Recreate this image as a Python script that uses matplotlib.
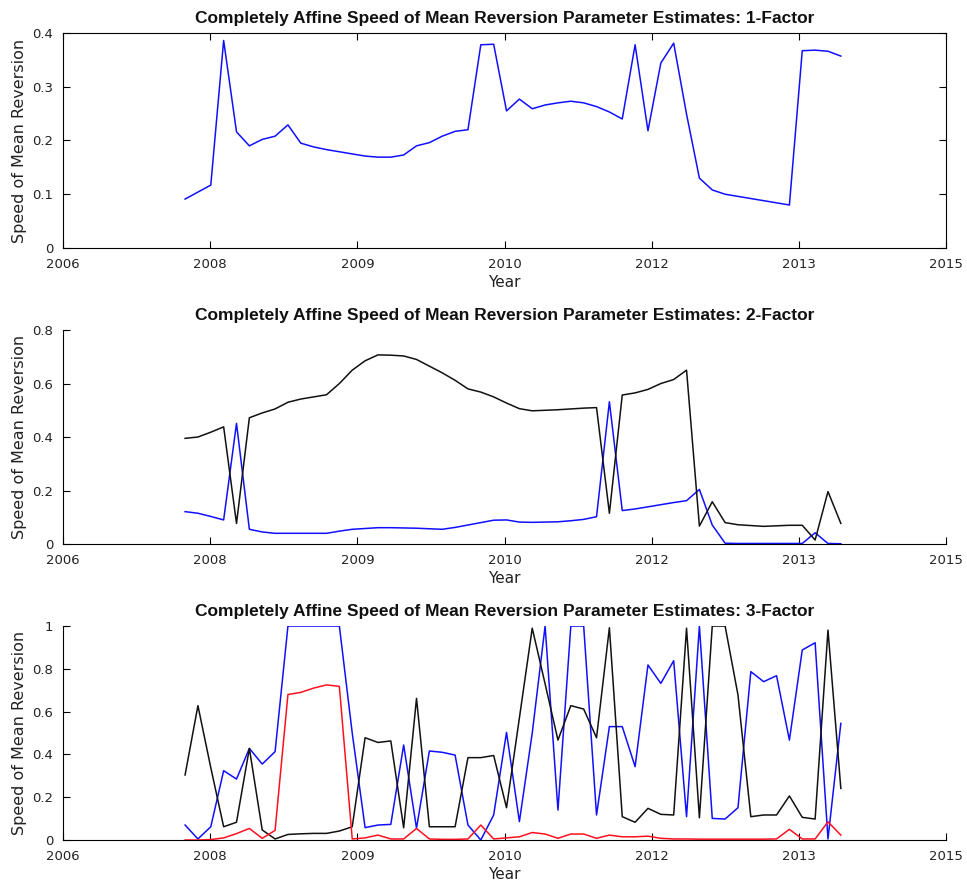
import numpy as np
import matplotlib
matplotlib.use('Agg')
import matplotlib.pyplot as plt


# observation number (one per month-ish step), tick labels as printed on the axis
OBS = np.arange(52)
YEAR_LABELS = ['2006', '2008', '2009', '2010', '2012', '2013', '2015']

ONE_FACTOR = [0.091, 0.104, 0.117, 0.386, 0.216, 0.190, 0.202, 0.208, 0.229, 0.195,
              0.188, 0.183, 0.179, 0.175, 0.171, 0.169, 0.169, 0.173, 0.190, 0.196,
              0.208, 0.217, 0.220, 0.378, 0.379, 0.255, 0.277, 0.259, 0.266, 0.270,
              0.273, 0.270, 0.263, 0.253, 0.240, 0.378, 0.218, 0.344, 0.381, 0.249,
              0.130, 0.108, 0.100, 0.096, 0.092, 0.088, 0.084, 0.080, 0.367, 0.368,
              0.366, 0.357]

TWO_FACTOR_BLUE = [0.121, 0.115, 0.103, 0.090, 0.451, 0.055, 0.045, 0.040, 0.040, 0.040,
                   0.040, 0.040, 0.048, 0.055, 0.058, 0.061, 0.061, 0.060, 0.059, 0.057,
                   0.055, 0.062, 0.071, 0.080, 0.089, 0.090, 0.082, 0.081, 0.082, 0.083,
                   0.087, 0.092, 0.102, 0.532, 0.125, 0.131, 0.139, 0.147, 0.155, 0.162,
                   0.204, 0.071, 0.003, 0.002, 0.002, 0.002, 0.002, 0.002, 0.002, 0.042,
                   0.002, 0.001]

TWO_FACTOR_BLACK = [0.395, 0.400, 0.418, 0.438, 0.077, 0.472, 0.490, 0.505, 0.530, 0.542,
                    0.550, 0.558, 0.600, 0.650, 0.685, 0.707, 0.706, 0.703, 0.690, 0.665,
                    0.640, 0.612, 0.580, 0.568, 0.550, 0.527, 0.506, 0.498, 0.500, 0.502,
                    0.505, 0.508, 0.510, 0.115, 0.557, 0.565, 0.578, 0.600, 0.615, 0.650,
                    0.067, 0.158, 0.080, 0.072, 0.069, 0.066, 0.068, 0.070, 0.070, 0.015,
                    0.196, 0.077]

THREE_FACTOR_BLUE = [0.070, 0.005, 0.062, 0.324, 0.285, 0.428, 0.355, 0.413, 1.0, 1.0,
                     1.0, 1.0, 1.0, 0.500, 0.058, 0.070, 0.073, 0.444, 0.055, 0.416,
                     0.410, 0.397, 0.070, 0.0, 0.117, 0.503, 0.086, 0.500, 1.0, 0.140,
                     1.0, 1.0, 0.117, 0.530, 0.530, 0.343, 0.818, 0.732, 0.838, 0.109,
                     1.0, 0.101, 0.098, 0.151, 0.787, 0.740, 0.768, 0.467, 0.888, 0.922,
                     0.005, 0.545]

THREE_FACTOR_BLACK = [0.304, 0.628, 0.338, 0.062, 0.083, 0.428, 0.047, 0.005, 0.026, 0.029,
                      0.031, 0.031, 0.042, 0.062, 0.478, 0.456, 0.463, 0.057, 0.662, 0.062,
                      0.062, 0.062, 0.385, 0.385, 0.395, 0.151, 0.570, 0.990, 0.730, 0.467,
                      0.628, 0.612, 0.478, 0.992, 0.109, 0.083, 0.148, 0.120, 0.117, 0.990,
                      0.104, 1.0, 1.0, 0.678, 0.109, 0.117, 0.117, 0.206, 0.106, 0.098,
                      0.981, 0.241]

THREE_FACTOR_RED = [0.0, 0.0, 0.002, 0.010, 0.030, 0.054, 0.008, 0.045, 0.680, 0.690,
                    0.710, 0.725, 0.718, 0.005, 0.010, 0.023, 0.005, 0.005, 0.054, 0.005,
                    0.003, 0.003, 0.005, 0.070, 0.005, 0.010, 0.015, 0.035, 0.028, 0.008,
                    0.028, 0.028, 0.008, 0.023, 0.015, 0.015, 0.018, 0.008, 0.005, 0.005,
                    0.004, 0.004, 0.004, 0.004, 0.004, 0.004, 0.005, 0.050, 0.005, 0.005,
                    0.085, 0.023]

TITLE = 'Completely Affine Speed of Mean Reversion Parameter Estimates: %d-Factor'

# x range of the axes in observation units
X_FROM = -9.49
X_TO = 59.18

TEXT = '#222222'
TICK_FONT = 'DejaVu Sans'
TITLE_FONT = 'Liberation Sans'


def style_axis(axis, y_top, y_ticks, y_labels, boxed):
    axis.set_xlim(X_FROM, X_TO)
    axis.set_ylim(0, y_top)
    axis.set_xticks(np.linspace(X_FROM, X_TO, len(YEAR_LABELS)))
    axis.set_xticklabels(YEAR_LABELS)
    axis.set_yticks(y_ticks)
    axis.set_yticklabels(y_labels)

    axis.tick_params(direction='in', length=5, width=0.8, labelsize=9.5,
                     labelcolor=TEXT, pad=7, top=boxed, right=boxed)
    for label in axis.get_xticklabels() + axis.get_yticklabels():
        label.set_family(TICK_FONT)

    for side in ['top', 'right']:
        axis.spines[side].set_visible(boxed)
    for spine in axis.spines.values():
        spine.set_linewidth(0.8)

    axis.set_xlabel('Year', fontsize=11, color=TEXT, family=TICK_FONT)
    axis.set_ylabel('Speed of Mean Reversion', fontsize=11.5, color=TEXT, family=TICK_FONT)
    axis.xaxis.set_label_coords(0.5, -0.125)
    axis.yaxis.set_label_coords(-0.041, 0.5)
    axis.set_title(axis.get_label(), fontsize=12.5, fontweight='bold',
                   family=TITLE_FONT, color='#111111', pad=7)


fig = plt.figure(figsize=(9.67, 8.86), dpi=100)

ax1 = fig.add_axes([0.0652, 0.7201, 0.9131, 0.2427], label=TITLE % 1)
ax2 = fig.add_axes([0.0652, 0.3860, 0.9131, 0.2415], label=TITLE % 2)
ax3 = fig.add_axes([0.0652, 0.0519, 0.9131, 0.2415], label=TITLE % 3)

ax1.plot(OBS, ONE_FACTOR, color='#1010ff', linewidth=1.1)

ax2.plot(OBS, TWO_FACTOR_BLUE, color='#1010ff', linewidth=1.1)
ax2.plot(OBS, TWO_FACTOR_BLACK, color='#111111', linewidth=1.1)

ax3.plot(OBS, THREE_FACTOR_BLUE, color='#1010ff', linewidth=1.1)
ax3.plot(OBS, THREE_FACTOR_BLACK, color='#111111', linewidth=1.1)
ax3.plot(OBS, THREE_FACTOR_RED, color='#ff1020', linewidth=1.1)

style_axis(ax1, 0.4, [0, 0.1, 0.2, 0.3, 0.4], ['0', '0.1', '0.2', '0.3', '0.4'], True)
style_axis(ax2, 0.8, [0, 0.2, 0.4, 0.6, 0.8], ['0', '0.2', '0.4', '0.6', '0.8'], False)
style_axis(ax3, 1.0, [0, 0.2, 0.4, 0.6, 0.8, 1.0], ['0', '0.2', '0.4', '0.6', '0.8', '1'], False)

fig.savefig('out.png', dpi=100)
